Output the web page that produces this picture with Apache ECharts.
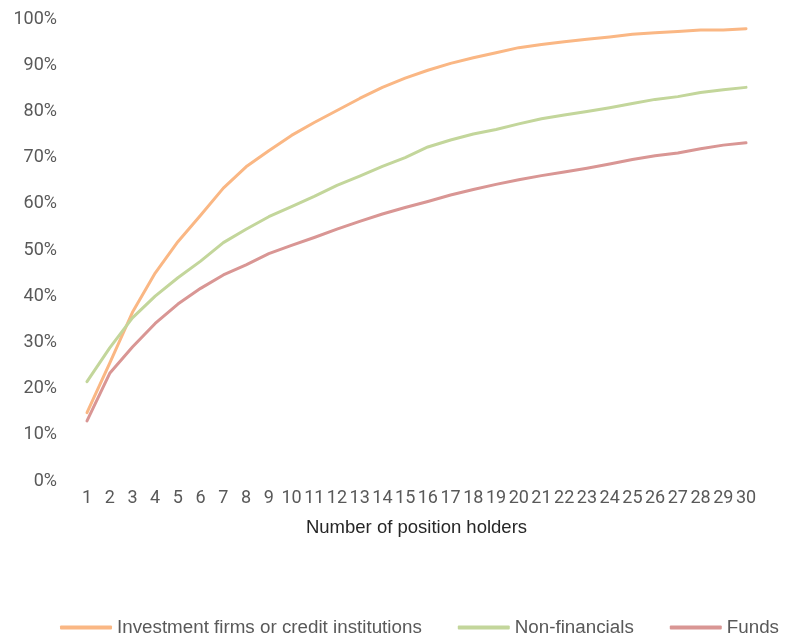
<!DOCTYPE html>
<html>
<head>
<meta charset="utf-8">
<script src="https://cdn.jsdelivr.net/npm/echarts@6/dist/echarts.min.js"></script>
<style>
html,body{margin:0;padding:0;background:#fff;}
#chart{width:787px;height:639px;}
</style>
</head>
<body>
<div id="chart"></div>
<script>
const categories = ["1","2","3","4","5","6","7","8","9","10","11","12","13","14","15","16","17","18","19","20","21","22","23","24","25","26","27","28","29","30"];
const investmentFirms = [14.8, 25.5, 36.5, 45.0, 51.8, 57.5, 63.4, 68.0, 71.5, 74.8, 77.6, 80.2, 82.8, 85.2, 87.2, 88.9, 90.4, 91.6, 92.7, 93.8, 94.5, 95.1, 95.6, 96.1, 96.7, 97.0, 97.3, 97.6, 97.6, 97.9];
const nonFinancials = [21.5, 28.8, 35.3, 40.0, 44.0, 47.6, 51.6, 54.5, 57.2, 59.4, 61.6, 64.0, 66.0, 68.1, 70.0, 72.3, 73.8, 75.1, 76.1, 77.3, 78.4, 79.2, 80.0, 80.8, 81.7, 82.6, 83.2, 84.1, 84.7, 85.2];
const funds = [13.0, 23.3, 29.0, 34.1, 38.3, 41.7, 44.6, 46.8, 49.2, 51.0, 52.7, 54.5, 56.2, 57.8, 59.2, 60.5, 61.9, 63.1, 64.2, 65.2, 66.1, 66.9, 67.7, 68.6, 69.6, 70.4, 71.0, 71.9, 72.7, 73.2];
const seriesNames = ["Investment firms or credit institutions", "Non-financials", "Funds"];
const yTicks = [0, 10, 20, 30, 40, 50, 60, 70, 80, 90, 100];
const xAxisTitle = "Number of position holders";

const colors = ["#FAB784", "#C3D69B", "#D99694"];

const chart = echarts.init(document.getElementById('chart'), null, {renderer: 'canvas'});
const mk = (name, data, i) => ({
  name: name,
  type: 'line',
  data: data,
  symbol: 'none',
  smooth: false,
  lineStyle: {width: 3, color: colors[i], cap: 'round', join: 'round'},
  itemStyle: {color: colors[i]}
});
chart.setOption({
  animation: false,
  backgroundColor: '#ffffff',
  grid: {left: 87, right: 41, top: 19, bottom: 158, containLabel: false},
  xAxis: {
    type: 'category',
    data: categories,
    boundaryGap: false,
    axisLine: {show: false},
    axisTick: {show: false},
    splitLine: {show: false},
    axisLabel: {interval: 0, margin: 8, color: '#595959', fontFamily: 'Roboto', fontSize: 18},
    name: xAxisTitle,
    nameLocation: 'middle',
    nameGap: 37,
    nameTextStyle: {color: '#262626', fontFamily: 'Liberation Sans, Arial', fontSize: 18.5}
  },
  yAxis: {
    type: 'value',
    min: yTicks[0],
    max: yTicks[yTicks.length - 1],
    interval: yTicks[1] - yTicks[0],
    axisLine: {show: false},
    axisTick: {show: false},
    splitLine: {show: false},
    axisLabel: {margin: 30, color: '#595959', fontFamily: 'Roboto', fontSize: 18, formatter: v => v + '%'}
  },
  legend: {
    left: 60,
    top: 618,
    padding: 0,
    itemWidth: 52,
    itemHeight: 4,
    itemGap: 36,
    icon: 'roundRect',
    textStyle: {color: '#595959', fontFamily: 'Liberation Sans, Arial', fontSize: 18.8},
    data: seriesNames
  },
  series: [
    mk(seriesNames[0], investmentFirms, 0),
    mk(seriesNames[1], nonFinancials, 1),
    mk(seriesNames[2], funds, 2)
  ]
});
</script>
</body>
</html>
